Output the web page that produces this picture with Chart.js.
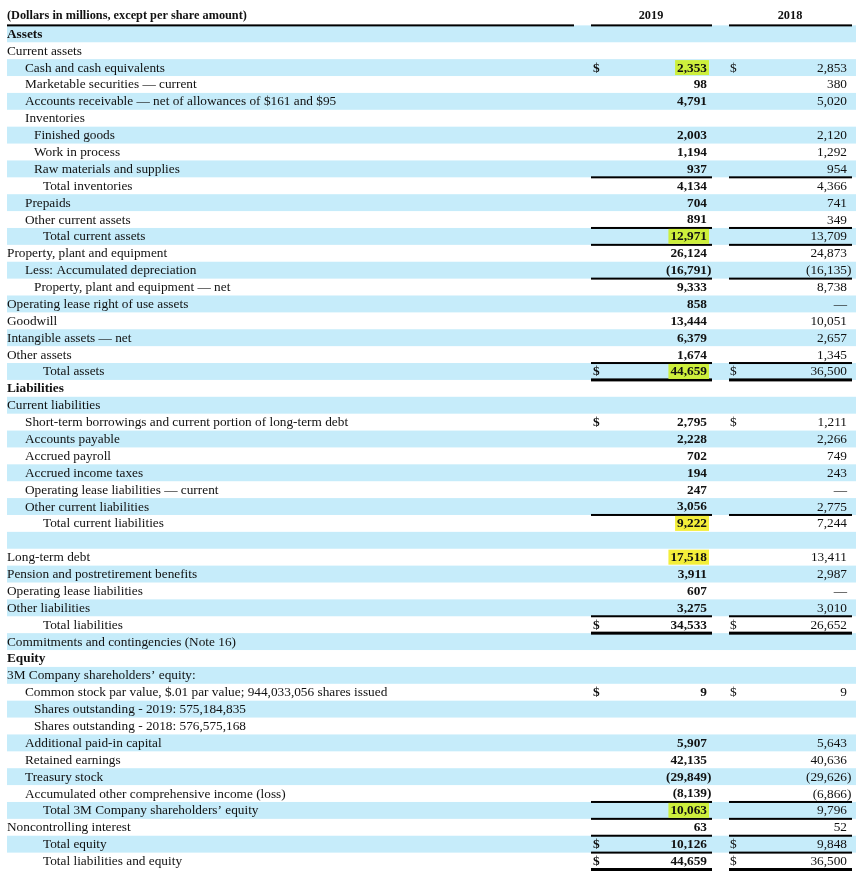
<!DOCTYPE html>
<html>
<head>
<meta charset="utf-8">
<script src="https://cdn.jsdelivr.net/npm/chart.js@4/dist/chart.umd.min.js"></script>
<style>
  body { margin: 0; background: #fff; }
  canvas { display: block; }
</style>
</head>
<body>
<canvas id="tabla" width="860" height="876"></canvas>
<script>
// filas de la tabla (la primera es la cabecera)
var filas = [
    "(Dollars in millions, except per share amount)",
    "Assets",
    "Current assets",
    "Cash and cash equivalents",
    "Marketable securities \u2014 current",
    "Accounts receivable \u2014 net of allowances of $161 and $95",
    "Inventories",
    "Finished goods",
    "Work in process",
    "Raw materials and supplies",
    "Total inventories",
    "Prepaids",
    "Other current assets",
    "Total current assets",
    "Property, plant and equipment",
    "Less: Accumulated depreciation",
    "Property, plant and equipment \u2014 net",
    "Operating lease right of use assets",
    "Goodwill",
    "Intangible assets \u2014 net",
    "Other assets",
    "Total assets",
    "Liabilities",
    "Current liabilities",
    "Short-term borrowings and current portion of long-term debt",
    "Accounts payable",
    "Accrued payroll",
    "Accrued income taxes",
    "Operating lease liabilities \u2014 current",
    "Other current liabilities",
    "Total current liabilities",
    "",
    "Long-term debt",
    "Pension and postretirement benefits",
    "Operating lease liabilities",
    "Other liabilities",
    "Total liabilities",
    "Commitments and contingencies (Note 16)",
    "Equity",
    "3M Company shareholders\u2019 equity:",
    "Common stock par value, $.01 par value; 944,033,056 shares issued",
    "Shares outstanding - 2019: 575,184,835",
    "Shares outstanding - 2018: 576,575,168",
    "Additional paid-in capital",
    "Retained earnings",
    "Treasury stock",
    "Accumulated other comprehensive income (loss)",
    "Total 3M Company shareholders\u2019 equity",
    "Noncontrolling interest",
    "Total equity",
    "Total liabilities and equity"
];
var sangria = [0,0,0,1,1,1,1,2,2,2,3,1,1,3,0,1,2,0,0,0,0,3,0,0,1,1,1,1,1,1,3,0,0,0,0,0,3,0,0,0,1,2,2,1,1,1,1,3,0,3,3];
var anios = ["2019", "2018"];
var valores2019 = [null,null,null,2353,98,4791,null,2003,1194,937,4134,704,891,12971,26124,-16791,9333,858,13444,6379,1674,44659,
    null,null,2795,2228,702,194,247,3056,9222,null,17518,3911,607,3275,34533,null,null,null,9,null,null,5907,42135,-29849,-8139,10063,63,10126,44659];
var valores2018 = [null,null,null,2853,380,5020,null,2120,1292,954,4366,741,349,13709,24873,-16135,8738,"\u2014",10051,2657,1345,36500,
    null,null,1211,2266,749,243,"\u2014",2775,7244,null,13411,2987,"\u2014",3010,26652,null,null,null,9,null,null,5643,40636,-29626,-6866,9796,52,9848,36500];
var filasNegrita = ["(Dollars in millions, except per share amount)", "Assets", "Liabilities", "Equity"];
var filasDolar = ["Cash and cash equivalents", "Total assets", "Short-term borrowings and current portion of long-term debt",
    "Total liabilities", "Common stock par value, $.01 par value; 944,033,056 shares issued", "Total equity", "Total liabilities and equity"];

// estilos
var resaltados = {
    "Cash and cash equivalents": "#cdef3c",
    "Total current assets": "#cdef3c",
    "Total assets": "#cdef3c",
    "Total current liabilities": "#f3ee3a",
    "Long-term debt": "#f3ee3a",
    "Total 3M Company shareholders\u2019 equity": "#cdef3c"
};
// lineas debajo de la fila indicada (1 = normal, 2 = gruesa)
var lineasDebajo = {
    "Raw materials and supplies": 1, "Other current assets": 1, "Total current assets": 1,
    "Less: Accumulated depreciation": 1, "Other assets": 1, "Total assets": 2,
    "Other current liabilities": 1, "Other liabilities": 1, "Total liabilities": 2,
    "Accumulated other comprehensive income (loss)": 1, "Total 3M Company shareholders\u2019 equity": 1,
    "Noncontrolling interest": 1, "Total equity": 1, "Total liabilities and equity": 2
};
var azul = "#c6ecfa";
var serif = "'Liberation Serif', 'Times New Roman', serif";
var xSangria = [7, 25, 34, 43];
var col = [
    { dolar: 593, der: 707, ini: 591, fin: 712, centro: 651, negrita: true },
    { dolar: 730, der: 847, ini: 729, fin: 852, centro: 790, negrita: false }
];

function formato(v) {
    if (typeof v === "string") return v;
    return Math.abs(v).toLocaleString("en-US");
}

var dibujarTabla = {
    id: "dibujarTabla",
    beforeDatasetsDraw: function (chart) {
        var ctx = chart.ctx;
        var y = chart.scales.y;
        var n = filas.length;
        var centro = function (i) { return y.getPixelForValue(i); };
        var banda = (centro(n - 1) - centro(0)) / (n - 1);
        ctx.save();

        // franjas
        ctx.fillStyle = azul;
        for (var i = 1; i < n; i += 2) {
            ctx.fillRect(7, centro(i) - banda / 2, 849, banda);
        }

        // lineas
        ctx.fillStyle = "#000";
        var yCab = centro(0) + banda / 2;
        ctx.fillRect(7, yCab - 1, 567, 2);
        col.forEach(function (c) { ctx.fillRect(c.ini, yCab - 1, c.fin - c.ini, 2); });
        filas.forEach(function (f, i) {
            var g = lineasDebajo[f];
            if (!g) return;
            var yl = centro(i) + banda / 2;
            var h = g === 2 ? 3 : 2;
            col.forEach(function (c) { ctx.fillRect(c.ini, yl - h / 2, c.fin - c.ini, h); });
        });

        ctx.textBaseline = "middle";
        ctx.fillStyle = "#111";

        // cabecera
        ctx.font = "bold 12.3px " + serif;
        ctx.textAlign = "left";
        ctx.fillText(filas[0], 7, centro(0) - 1);
        ctx.textAlign = "center";
        col.forEach(function (c, k) { ctx.fillText(anios[k], c.centro, centro(0) - 1); });

        for (var r = 1; r < n; r++) {
            var cy = centro(r) + 0.5;
            ctx.textAlign = "left";
            ctx.font = (filasNegrita.indexOf(filas[r]) >= 0 ? "bold " : "") + "13.3px " + serif;
            ctx.fillStyle = "#111";
            ctx.fillText(filas[r], xSangria[sangria[r]], cy);

            [valores2019[r], valores2018[r]].forEach(function (v, k) {
                if (v === null) return;
                var c = col[k];
                ctx.font = (c.negrita ? "bold " : "") + "13.3px " + serif;
                var txt = formato(v);
                var neg = typeof v === "number" && v < 0;
                if (neg) txt = "(" + txt;
                var ancho = ctx.measureText(txt).width;
                if (k === 0 && resaltados[filas[r]]) {
                    ctx.fillStyle = resaltados[filas[r]];
                    ctx.fillRect(c.der - ancho - 2, cy - 8, ancho + 4, 15);
                }
                ctx.fillStyle = "#111";
                ctx.textAlign = "right";
                ctx.fillText(txt, c.der, cy);
                if (neg) {
                    ctx.textAlign = "left";
                    ctx.fillText(")", c.der, cy);
                }
                if (filasDolar.indexOf(filas[r]) >= 0) {
                    ctx.textAlign = "left";
                    ctx.fillText("$", c.dolar, cy);
                }
            });
        }
        ctx.restore();
    }
};

var tabla = new Chart(document.getElementById("tabla"), {
    type: "bar",
    data: {
        labels: filas,
        datasets: [{
            label: "filas",
            data: filas.map(function () { return null; }),
            backgroundColor: "rgba(0,0,0,0)"
        }]
    },
    options: {
        indexAxis: "y",
        responsive: false,
        animation: false,
        layout: { padding: { top: 8.5, bottom: 6.5, left: 0, right: 0 } },
        plugins: { legend: { display: false }, tooltip: { enabled: false } },
        scales: {
            y: { type: "category", display: false, offset: true },
            x: { display: false, min: 0, max: 1 }
        }
    },
    plugins: [dibujarTabla]
});
</script>
</body>
</html>
